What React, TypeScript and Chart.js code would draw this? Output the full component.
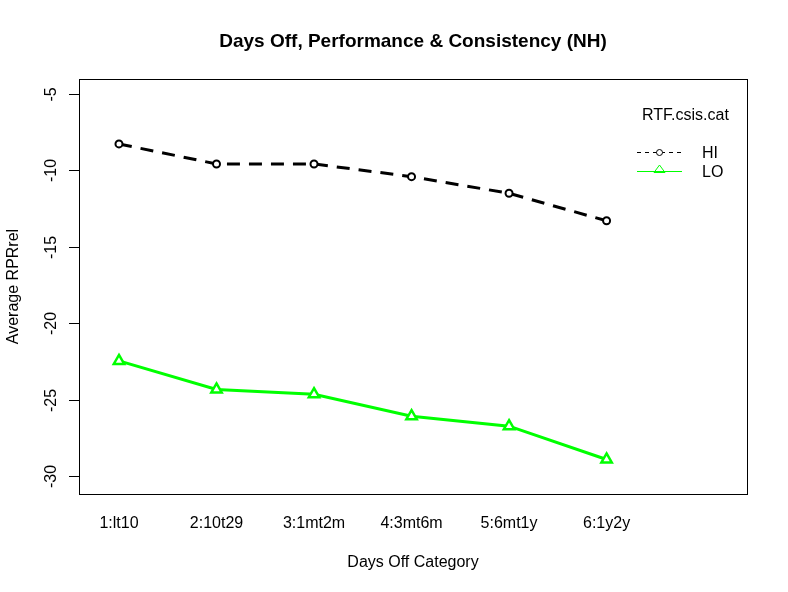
import { useEffect, useRef } from "react";
import { Chart, registerables } from "chart.js";

Chart.register(...registerables);

const categories = ["1:lt10", "2:10t29", "3:1mt2m", "4:3mt6m", "5:6mt1y", "6:1y2y"];
const hiValues = [-8.27, -9.58, -9.58, -10.41, -11.5, -13.3];
const loValues = [-22.47, -24.34, -24.65, -26.09, -26.74, -28.92];
const yTicks = [-5, -10, -15, -20, -25, -30];
const seriesNames = ["HI", "LO"];
const legendTitle = "RTF.csis.cat";
const chartTitle = "Days Off, Performance & Consistency (NH)";
const xTitle = "Days Off Category";
const yTitle = "Average RPRrel";

const FONT = '"Liberation Sans", Arial, sans-serif';
const GREEN = "#00FF00";

const decorPlugin = {
  id: "rdecor",
  afterDraw(chart: any) {
    const ctx = chart.ctx as CanvasRenderingContext2D;
    const { left, right, top, bottom } = chart.chartArea;
    const xs = chart.scales.x;
    const ys = chart.scales.y;
    ctx.save();
    // box
    ctx.strokeStyle = "#000";
    ctx.lineWidth = 1;
    ctx.strokeRect(Math.round(left) + 0.5, Math.round(top) + 0.5, Math.round(right - left), Math.round(bottom - top));
    // y ticks
    ctx.fillStyle = "#000";
    ctx.font = `16px ${FONT}`;
    for (const t of yTicks) {
      const py = Math.round(ys.getPixelForValue(t)) + 0.5;
      ctx.beginPath();
      ctx.moveTo(left - 10, py);
      ctx.lineTo(left, py);
      ctx.stroke();
      ctx.save();
      ctx.translate(left - 27, py);
      ctx.rotate(-Math.PI / 2);
      ctx.textAlign = "center";
      ctx.textBaseline = "middle";
      ctx.fillText(String(t), 0, 0);
      ctx.restore();
    }
    // x labels
    ctx.textAlign = "center";
    ctx.textBaseline = "middle";
    categories.forEach((c, i) => {
      const px = xs.getPixelForValue(i + 1);
      ctx.fillText(c, px, 524);
    });
    // axis titles
    ctx.fillText(xTitle, (left + right) / 2, 563);
    ctx.save();
    ctx.translate(14, (top + bottom) / 2);
    ctx.rotate(-Math.PI / 2);
    ctx.fillText(yTitle, 0, 0);
    ctx.restore();
    // title
    ctx.font = `bold 19px ${FONT}`;
    ctx.fillText(chartTitle, (left + right) / 2, 42);
    // legend
    ctx.font = `16px ${FONT}`;
    ctx.textAlign = "left";
    ctx.fillText(legendTitle, 642, 116);
    ctx.fillText(seriesNames[0], 702, 154);
    ctx.fillText(seriesNames[1], 702, 173);
    // HI legend line
    ctx.strokeStyle = "#000";
    ctx.lineWidth = 1;
    ctx.setLineDash([4, 4]);
    ctx.beginPath();
    ctx.moveTo(637, 152.5);
    ctx.lineTo(682, 152.5);
    ctx.stroke();
    ctx.setLineDash([]);
    ctx.fillStyle = "#fff";
    ctx.beginPath();
    ctx.arc(659.5, 152.5, 3, 0, Math.PI * 2);
    ctx.fill();
    ctx.stroke();
    // LO legend line
    ctx.strokeStyle = GREEN;
    ctx.beginPath();
    ctx.moveTo(637, 171.5);
    ctx.lineTo(682, 171.5);
    ctx.stroke();
    ctx.beginPath();
    ctx.moveTo(659.5, 165);
    ctx.lineTo(654, 172.5);
    ctx.lineTo(665, 172.5);
    ctx.closePath();
    ctx.stroke();
    ctx.restore();
  },
};

export default function App() {
  const ref = useRef<HTMLCanvasElement | null>(null);
  useEffect(() => {
    if (!ref.current) return;
    const chart = new Chart(ref.current, {
      type: "line",
      data: {
        datasets: [
          {
            label: seriesNames[0],
            data: hiValues.map((v, i) => ({ x: i + 1, y: v })),
            borderColor: "#000",
            borderWidth: 3,
            borderDash: [13, 9],
            pointStyle: "circle",
            pointRadius: 3.5,
            pointBorderWidth: 2,
            pointBorderColor: "#000",
            pointBackgroundColor: "#fff",
            tension: 0,
          },
          {
            label: seriesNames[1],
            data: loValues.map((v, i) => ({ x: i + 1, y: v })),
            borderColor: GREEN,
            borderWidth: 3,
            pointStyle: "triangle",
            pointRadius: 6,
            pointBorderWidth: 2.5,
            pointBorderColor: GREEN,
            pointBackgroundColor: "#fff",
            tension: 0,
          },
        ],
      },
      options: {
        animation: false,
        responsive: false,
        devicePixelRatio: 1,
        layout: { padding: { left: 79, top: 79, right: 41, bottom: 98 } },
        plugins: { legend: { display: false }, tooltip: { enabled: false }, title: { display: false } },
        scales: {
          x: { type: "linear", min: 0.59, max: 7.44, display: false },
          y: { type: "linear", min: -31.18, max: -4.02, display: false },
        },
      },
      plugins: [decorPlugin],
    });
    return () => chart.destroy();
  }, []);
  return (
    <div style={{ position: "fixed", left: 0, top: 0, width: 788, height: 592, background: "#fff" }}>
      <canvas ref={ref} width={788} height={592} style={{ width: 788, height: 592, display: "block" }} />
    </div>
  );
}
